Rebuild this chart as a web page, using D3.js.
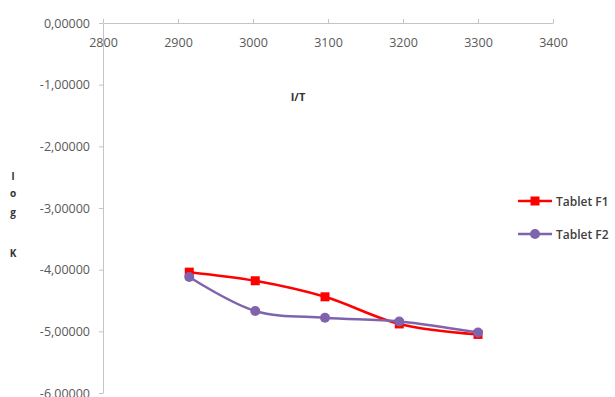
<!DOCTYPE html>
<html>
<head>
<meta charset="utf-8">
<script src="https://cdn.jsdelivr.net/npm/d3@7"></script>
<style>
  html, body { margin: 0; padding: 0; background: #fff; }
  svg { display: block; }
</style>
</head>
<body>
<svg id="chart" width="615" height="397"></svg>
<script>
// ---- data ----
const xValues = [2915, 3003, 3096, 3195, 3300];
const seriesNames = ["Tablet F1", "Tablet F2"];
const f1Values = [-4.04, -4.18, -4.44, -4.88, -5.05];
const f2Values = [-4.12, -4.67, -4.78, -4.84, -5.02];
const xTicks = [2800, 2900, 3000, 3100, 3200, 3300, 3400];
const yTicks = [0, -1, -2, -3, -4, -5, -6];
const seriesColors = ["#ff0000", "#7f64ad"];

const svg = d3.select("#chart");
const x = d3.scaleLinear().domain([2800, 3400]).range([103, 553]);
const y = d3.scaleLinear().domain([-6, 0]).range([393, 23]);

const axisColor = "#c4c4c4";
const labelColor = "#595959";
const fontFam = "'Open Sans', 'Liberation Sans', sans-serif";

// Y axis
const yAxis = d3.axisLeft(y).tickValues(yTicks).tickSizeInner(4).tickSizeOuter(0).tickPadding(9)
  .tickFormat(d => d.toFixed(5).replace(".", ","));
const gy = svg.append("g").attr("transform", `translate(${x(2800)},0)`).call(yAxis);
gy.selectAll("path, line").attr("stroke", axisColor);
gy.selectAll("text").attr("fill", labelColor).style("font-family", fontFam).style("font-size", "12.5px");

// X axis (at y = 0), labels below, ticks up
const xAxis = d3.axisBottom(x).tickValues(xTicks).tickSizeInner(-4).tickSizeOuter(0).tickPadding(15)
  .tickFormat(d3.format("d"));
const gx = svg.append("g").attr("transform", `translate(0,${y(0)})`).call(xAxis);
gx.selectAll("path, line").attr("stroke", axisColor);
gx.selectAll("text").attr("fill", labelColor).style("font-family", fontFam).style("font-size", "12.5px");

// Axis titles
svg.append("text").attr("x", 298).attr("y", 101).attr("text-anchor", "middle")
  .attr("fill", "#333").style("font-family", fontFam).style("font-size", "11px").style("font-weight", "bold")
  .text("I/T");
const yTitle = ["l", "o", "g", "", "K"];
const yTitlePos = [180, 197, 216, 235, 257];
yTitle.forEach((c, i) => {
  svg.append("text").attr("x", 13).attr("y", yTitlePos[i]).attr("text-anchor", "middle")
    .attr("fill", "#333").style("font-family", fontFam).style("font-size", "10px").style("font-weight", "bold")
    .text(c);
});

// Lines
const allSeries = [f1Values, f2Values];
const line = d3.line().x(d => x(d[0])).y(d => y(d[1])).curve(d3.curveCatmullRom.alpha(0.5));

allSeries.forEach((vals, si) => {
  const pts = xValues.map((xv, i) => [xv, vals[i]]);
  svg.append("path").datum(pts).attr("d", line).attr("fill", "none")
    .attr("stroke", seriesColors[si]).attr("stroke-width", 2.5);
});
// markers: draw F1 squares then F2 circles
xValues.forEach((xv, i) => {
  svg.append("rect").attr("x", x(xv) - 4.5).attr("y", y(f1Values[i]) - 4.5)
    .attr("width", 9).attr("height", 9).attr("fill", seriesColors[0]);
});
xValues.forEach((xv, i) => {
  svg.append("circle").attr("cx", x(xv)).attr("cy", y(f2Values[i])).attr("r", 5)
    .attr("fill", seriesColors[1]);
});

// Legend
const legendY = [201, 234];
seriesNames.forEach((name, i) => {
  const g = svg.append("g");
  g.append("line").attr("x1", 518).attr("x2", 552).attr("y1", legendY[i]).attr("y2", legendY[i])
    .attr("stroke", seriesColors[i]).attr("stroke-width", 2.5);
  if (i === 0) {
    g.append("rect").attr("x", 535 - 4.5).attr("y", legendY[i] - 4.5).attr("width", 9).attr("height", 9)
      .attr("fill", seriesColors[i]);
  } else {
    g.append("circle").attr("cx", 535).attr("cy", legendY[i]).attr("r", 5).attr("fill", seriesColors[i]);
  }
  g.append("text").attr("x", 556).attr("y", legendY[i] + 4.5).attr("fill", "#404040")
    .style("font-family", fontFam).style("font-size", "12px").style("font-weight", "600")
    .text(name);
});
</script>
</body>
</html>
